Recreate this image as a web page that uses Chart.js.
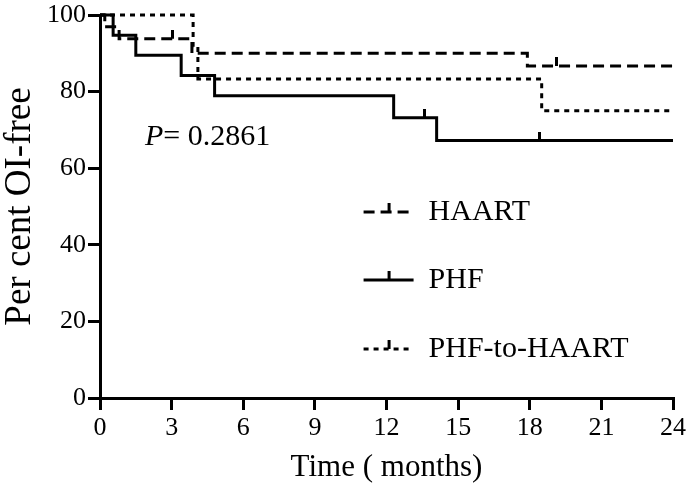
<!DOCTYPE html>
<html>
<head>
<meta charset="utf-8">
<script src="https://cdn.jsdelivr.net/npm/chart.js@4.4.0/dist/chart.umd.min.js"></script>
<style>
  html, body { margin: 0; padding: 0; background: #fff; }
  #wrap { width: 688px; height: 486px; position: relative; }
</style>
</head>
<body>
<div id="wrap"><canvas id="km"></canvas></div>
<script>
// Kaplan-Meier steps: [time in months, per cent OI-free]
const haartSteps = [[0, 100], [0.2, 96.9], [0.8, 93.8], [3.85, 90.0], [17.9, 86.7], [24, 86.7]];
const haartCensored = [[3.05, 93.8], [19.1, 86.7]];

const phfSteps = [[0, 100], [0.55, 94.7], [1.5, 89.5], [3.4, 84.2], [4.8, 78.9], [12.3, 73.2], [14.1, 67.2], [24, 67.2]];
const phfCensored = [[13.6, 73.2], [18.4, 67.2]];

const switchSteps = [[0, 100], [3.9, 91.7], [4.1, 83.3], [18.5, 75.0], [24, 75.0]];
const switchCensored = [];

const seriesNames = ['HAART', 'PHF', 'PHF-to-HAART'];
const seriesDash = [[11, 6], [], [5, 5]];
const xTicks = [0, 3, 6, 9, 12, 15, 18, 21, 24];
const yTicks = [0, 20, 40, 60, 80, 100];
const pValue = '0.2861';

const SERIF = '"Liberation Serif", "Times New Roman", serif';

// censor mark: short vertical stroke above the curve
function censorMark() {
    const c = document.createElement('canvas');
    c.width = 3;
    c.height = 18;
    const g = c.getContext('2d');
    g.fillStyle = '#000';
    g.fillRect(0, 0, 3, 9);
    return c;
}
const tick = censorMark();

const toXY = arr => arr.map(([x, y]) => ({x, y}));

function curve(label, steps, dash) {
    return {
        label,
        data: toXY(steps),
        stepped: true,
        borderColor: '#000',
        borderWidth: 3,
        borderDash: dash,
        borderCapStyle: 'butt',
        pointRadius: 0,
        fill: false,
        clip: false
    };
}
function censors(label, pts) {
    return {
        label: label + ' censored',
        data: toXY(pts),
        showLine: false,
        pointStyle: tick,
        pointRadius: 5,
        borderColor: '#000',
        backgroundColor: '#000',
        clip: false
    };
}

const legendPlugin = {
    id: 'kmLegend',
    afterDraw(chart) {
        const ctx = chart.ctx;
        const area = chart.chartArea;
        const x0 = area.left + (area.right - area.left) * 0.46;
        const rows = [212, 280, 349];
        ctx.save();
        seriesNames.forEach((name, i) => {
            const y = rows[i];
            ctx.strokeStyle = '#000';
            ctx.lineWidth = 3;
            ctx.setLineDash(seriesDash[i]);
            ctx.beginPath();
            ctx.moveTo(x0, y);
            ctx.lineTo(x0 + 50, y);
            ctx.stroke();
            ctx.setLineDash([]);
            ctx.fillStyle = '#000';
            ctx.fillRect(x0 + 24, y - 9, 3, 9);
            ctx.font = '30px ' + SERIF;
            ctx.textBaseline = 'middle';
            ctx.textAlign = 'left';
            ctx.fillText(name, x0 + 65, y);
        });
        // p-value
        const py = 137;
        let px = area.left + 45;
        ctx.font = 'italic 30px ' + SERIF;
        ctx.textBaseline = 'middle';
        ctx.fillText('P', px, py);
        px += ctx.measureText('P').width;
        ctx.font = '30px ' + SERIF;
        ctx.fillText('= ' + pValue, px, py);
        ctx.restore();
    }
};

new Chart(document.getElementById('km'), {
    type: 'line',
    data: {
        datasets: [
            curve(seriesNames[0], haartSteps, seriesDash[0]),
            curve(seriesNames[1], phfSteps, seriesDash[1]),
            curve(seriesNames[2], switchSteps, seriesDash[2]),
            censors(seriesNames[0], haartCensored),
            censors(seriesNames[1], phfCensored),
            censors(seriesNames[2], switchCensored)
        ]
    },
    options: {
        responsive: true,
        maintainAspectRatio: false,
        animation: false,
        layout: { padding: { left: 0, right: 15, top: 14, bottom: 0 } },
        plugins: {
            legend: { display: false },
            tooltip: { enabled: false }
        },
        scales: {
            x: {
                type: 'linear',
                min: 0,
                max: 24,
                afterBuildTicks: s => { s.ticks = xTicks.map(v => ({value: v})); },
                afterFit: s => { s.height = 88; s.paddingRight = 0; s.paddingLeft = 0; },
                ticks: {
                    color: '#000',
                    font: { family: SERIF, size: 26, lineHeight: 1 },
                    padding: 5,
                    maxRotation: 0
                },
                grid: {
                    drawOnChartArea: false,
                    drawTicks: true,
                    tickLength: 12,
                    color: '#000',
                    lineWidth: 3
                },
                border: { display: true, color: '#000', width: 3 },
                title: {
                    display: true,
                    text: 'Time ( months)',
                    color: '#000',
                    font: { family: SERIF, size: 31, lineHeight: 1.2 },
                    padding: { top: 2, bottom: 0 }
                }
            },
            y: {
                min: 0,
                max: 100,
                afterBuildTicks: s => { s.ticks = yTicks.map(v => ({value: v})); },
                afterFit: s => { s.width = 100; },
                ticks: {
                    color: '#000',
                    font: { family: SERIF, size: 26, lineHeight: 1 },
                    padding: 2
                },
                grid: {
                    drawOnChartArea: false,
                    drawTicks: true,
                    tickLength: 12,
                    color: '#000',
                    lineWidth: 3
                },
                border: { display: true, color: '#000', width: 3 },
                title: {
                    display: true,
                    text: 'Per cent OI-free',
                    color: '#000',
                    font: { family: SERIF, size: 37, lineHeight: 1 },
                    padding: { top: 2, bottom: 0 }
                }
            }
        }
    },
    plugins: [legendPlugin]
});
</script>
</body>
</html>
